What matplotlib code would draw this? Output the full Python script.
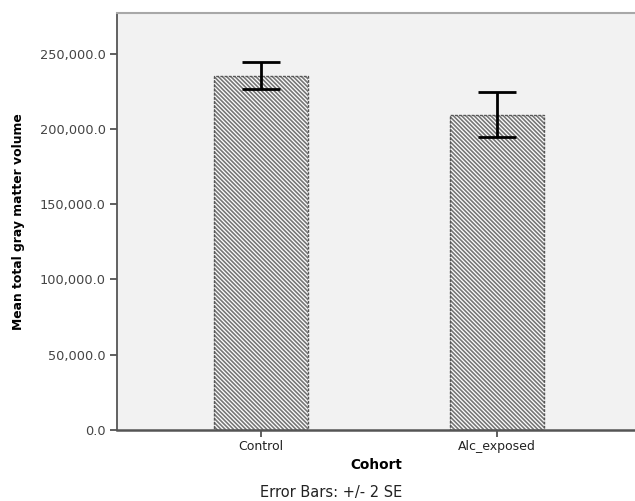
import matplotlib
matplotlib.use("Agg")
import matplotlib.pyplot as plt
from matplotlib.ticker import FuncFormatter

categories = ["Control", "Alc_exposed"]
means = [235300, 209400]
err_low = [226200, 194900]
err_high = [244200, 224200]
yticks = [0, 50000, 100000, 150000, 200000, 250000]

plt.rcParams['font.family'] = ['DejaVu Sans']
plt.rcParams['hatch.linewidth'] = 1.2

fig = plt.figure(figsize=(6.35, 5.01), dpi=100)
ax = fig.add_axes([117/635, 71/501, 1 - 117/635, (430-13)/501])
ax.set_facecolor('#f2f2f2')

x = list(range(len(categories)))
ax.bar(x, means, width=0.40, color='white', edgecolor='#777777',
       hatch='\\\\\\\\\\\\\\\\', linewidth=0, zorder=2)
ax.bar(x, means, width=0.40, fill=False, edgecolor='#555555',
       linewidth=1.0, linestyle=(0, (2, 1)), zorder=3)

lower = [m - l for m, l in zip(means, err_low)]
upper = [h - m for m, h in zip(means, err_high)]
ax.errorbar(x, means, yerr=[lower, upper], fmt='none', ecolor='black',
            elinewidth=2, capsize=13.5, capthick=2, zorder=4)

ax.set_xlim(-0.61, 1.585)
ax.set_ylim(0, 277000)
ax.set_xticks(x)
ax.set_xticklabels(categories, fontsize=9, color='#222222')
ax.set_yticks(yticks)
ax.yaxis.set_major_formatter(FuncFormatter(lambda v, p: f"{v:,.1f}"))
ax.tick_params(axis='y', labelsize=9.3, labelcolor='#444444', length=5, width=1.2, color='#444444', pad=3)
ax.tick_params(axis='x', length=5, width=1.2, color='#444444', pad=2)

ax.spines['right'].set_visible(False)
ax.spines['top'].set_color('#a8a8a8')
ax.spines['top'].set_linewidth(1.5)
ax.spines['left'].set_color('#555555')
ax.spines['left'].set_linewidth(1.3)
ax.spines['bottom'].set_color('#555555')
ax.spines['bottom'].set_linewidth(1.8)

ax.set_ylabel("Mean total gray matter volume", fontsize=8.9, fontweight='bold')
ax.yaxis.set_label_coords(-(117 - 18) / 518, 0.5)
ax.yaxis.label.set_va('center')
ax.set_xlabel("Cohort", fontsize=9.8, fontweight='bold')
ax.xaxis.set_label_coords(0.5, -(465 - 430) / 417)
ax.xaxis.label.set_va('center')
fig.text(331/635, 1 - 492/501, "Error Bars: +/- 2 SE", ha='center', va='center', fontsize=10.5, color='#222222')

fig.savefig("out.png", dpi=100)
